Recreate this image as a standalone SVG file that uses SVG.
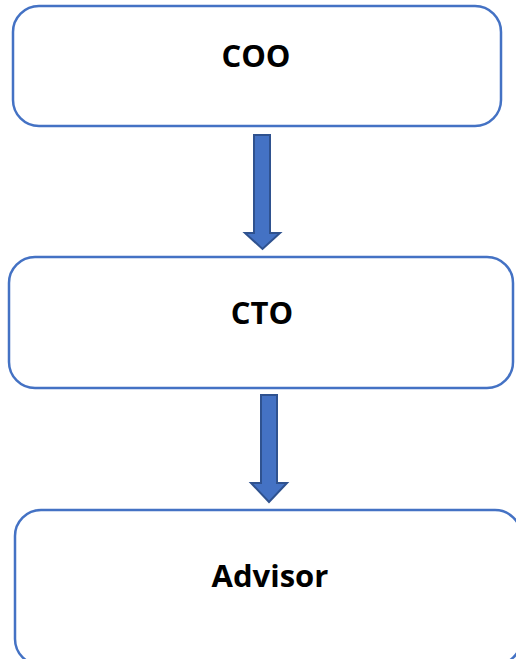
<svg xmlns="http://www.w3.org/2000/svg" width="516" height="659" viewBox="0 0 516 659">
<style>
.box{fill:#fff;stroke:#4472C4;stroke-width:2.5}
.lbl{font-family:"Open Sans","Liberation Sans",Arial,sans-serif;font-weight:bold;font-size:31px;fill:#000;text-anchor:middle}
.arr{fill:#4472C4;stroke:#2F528F;stroke-width:2}
</style>
<rect width="516" height="659" fill="#fff"/>
<g id="connectors">
<path class="arr" d="M254,135 H270 V233 H280 L262.5,249 L245,233 H254 Z"/>
<path class="arr" d="M261,395 H277 V483 H287 L269,502 L251,483 H261 Z"/>
</g>
<g id="node-coo">
<rect class="box" x="13" y="6" width="488" height="120" rx="26"/>
<text class="lbl" x="256" y="67">COO</text>
</g>
<g id="node-cto">
<rect class="box" x="9" y="257" width="504" height="131" rx="26"/>
<text class="lbl" x="262" y="324">CTO</text>
</g>
<g id="node-advisor">
<rect class="box" x="15" y="510" width="506" height="155" rx="26"/>
<text class="lbl" x="270" y="587">Advisor</text>
</g>
</svg>
